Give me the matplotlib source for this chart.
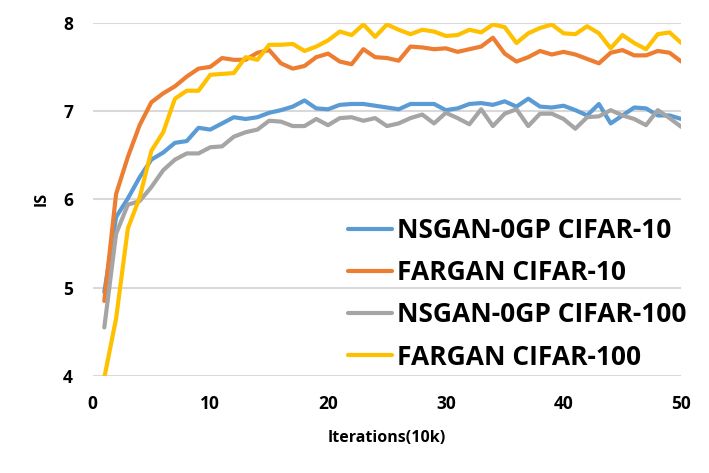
import matplotlib
matplotlib.use('Agg')
import matplotlib.pyplot as plt

iters = list(range(1, 51))

nsgan_c10 = [4.95, 5.80, 6.01, 6.25, 6.45, 6.53, 6.64, 6.66, 6.81, 6.79,
             6.86, 6.93, 6.91, 6.93, 6.98, 7.01, 7.05, 7.12, 7.03, 7.02,
             7.07, 7.08, 7.08, 7.06, 7.04, 7.02, 7.08, 7.08, 7.08, 7.01,
             7.03, 7.08, 7.09, 7.07, 7.11, 7.05, 7.14, 7.05, 7.04, 7.06,
             7.01, 6.95, 7.08, 6.86, 6.95, 7.04, 7.03, 6.95, 6.95, 6.91]
fargan_c10 = [4.85, 6.06, 6.48, 6.84, 7.10, 7.20, 7.28, 7.39, 7.48, 7.50,
              7.60, 7.58, 7.58, 7.66, 7.69, 7.54, 7.48, 7.51, 7.61, 7.65,
              7.56, 7.53, 7.70, 7.61, 7.60, 7.57, 7.73, 7.72, 7.70, 7.71,
              7.67, 7.70, 7.73, 7.83, 7.65, 7.56, 7.61, 7.68, 7.64, 7.67,
              7.64, 7.59, 7.54, 7.66, 7.69, 7.63, 7.63, 7.68, 7.66, 7.56]
nsgan_c100 = [4.55, 5.61, 5.94, 5.98, 6.14, 6.33, 6.45, 6.52, 6.52, 6.59,
              6.60, 6.71, 6.76, 6.79, 6.89, 6.88, 6.83, 6.83, 6.91, 6.84,
              6.92, 6.93, 6.89, 6.92, 6.83, 6.86, 6.92, 6.96, 6.86, 6.98,
              6.92, 6.85, 7.02, 6.83, 6.97, 7.02, 6.83, 6.97, 6.97, 6.91,
              6.80, 6.93, 6.94, 7.01, 6.95, 6.91, 6.84, 7.01, 6.92, 6.82]
fargan_c100 = [3.98, 4.65, 5.67, 6.02, 6.55, 6.76, 7.14, 7.23, 7.23, 7.41,
               7.42, 7.43, 7.61, 7.58, 7.75, 7.75, 7.76, 7.68, 7.73, 7.80,
               7.90, 7.86, 7.98, 7.84, 7.98, 7.92, 7.87, 7.92, 7.90, 7.85,
               7.86, 7.92, 7.89, 7.98, 7.95, 7.77, 7.88, 7.94, 7.98, 7.88,
               7.87, 7.96, 7.88, 7.71, 7.86, 7.77, 7.70, 7.87, 7.89, 7.77]

series = [
    ('NSGAN-0GP CIFAR-10', nsgan_c10, '#5B9BD5'),
    ('FARGAN CIFAR-10', fargan_c10, '#ED7D31'),
    ('NSGAN-0GP CIFAR-100', nsgan_c100, '#A5A5A5'),
    ('FARGAN CIFAR-100', fargan_c100, '#FFC000'),
]

plt.rcParams['font.family'] = ['Open Sans', 'DejaVu Sans']

fig = plt.figure(figsize=(7.09, 4.73), dpi=100)
ax = fig.add_axes([0.1305, 0.205, 0.8305, 0.747])

for nome, valores, cor in series:
    ax.plot(iters, valores, color=cor, lw=3, label=nome, solid_capstyle='round', zorder=3)

ax.set_xlim(0, 50)
ax.set_ylim(4, 8)
ax.set_xticks([0, 10, 20, 30, 40, 50])
ax.set_yticks([4, 5, 6, 7, 8])
ax.grid(axis='y', color='#D9D9D9', lw=1.5, zorder=0)
for s in ax.spines.values():
    s.set_visible(False)
ax.tick_params(length=0, labelsize=12.5, pad=14)
for lab in ax.get_xticklabels() + ax.get_yticklabels():
    lab.set_fontweight('bold')

ax.set_xlabel('Iterations(10k)', fontsize=11.5, fontweight='bold', labelpad=12)
ax.set_ylabel('IS', fontsize=11.5, fontweight='bold', labelpad=10)

leg = ax.legend(loc='center left', bbox_to_anchor=(0.434, 0.233), frameon=False,
                prop={'size': 19, 'weight': 'bold'}, handlelength=1.65,
                handletextpad=0.2, labelspacing=0.58, borderpad=0, borderaxespad=0)

fig.savefig('out.png', dpi=100)
